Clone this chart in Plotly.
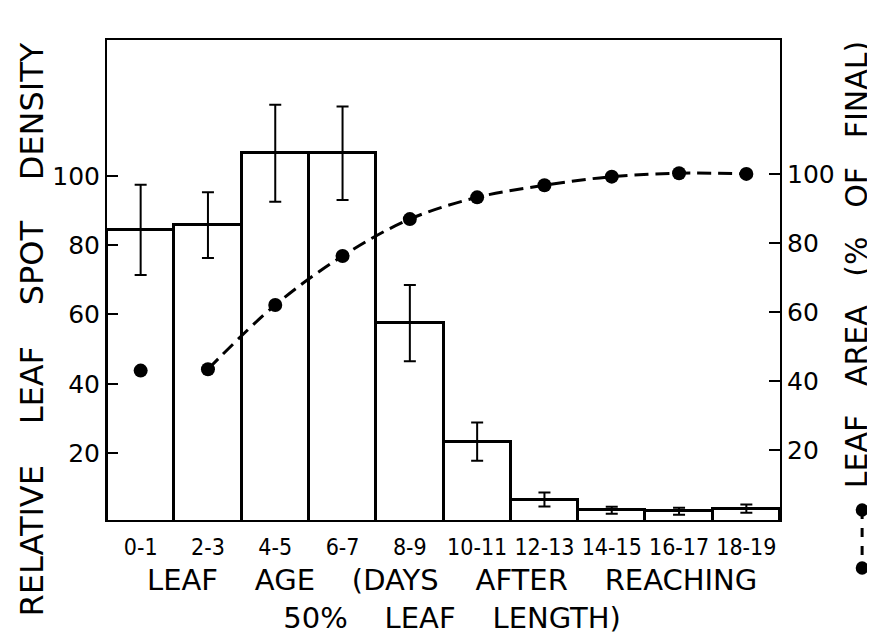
import plotly.graph_objects as go

categories = ["0-1", "2-3", "4-5", "6-7", "8-9", "10-11", "12-13", "14-15", "16-17", "18-19"]
spot_density = [84.4, 85.8, 106.5, 106.5, 57.5, 23.3, 6.6, 3.5, 3.2, 4.0]
spot_error = [13.0, 9.5, 14.0, 13.5, 11.0, 5.5, 2.0, 1.0, 1.0, 1.2]
leaf_area = [43.0, 43.4, 62.0, 76.2, 86.9, 93.2, 96.7, 99.2, 100.2, 100.0]

FONT = "DejaVu Sans"
COND = "DejaVu Sans Condensed, Liberation Sans Narrow, DejaVu Sans"
BLACK = "black"

fig = go.Figure()

fig.add_trace(go.Bar(
    x=categories, y=spot_density,
    marker=dict(color="white", line=dict(color=BLACK, width=3)),
    error_y=dict(type="data", array=spot_error, color=BLACK, thickness=2, width=6),
    showlegend=False,
))

# first point (unconnected)
fig.add_trace(go.Scatter(
    x=categories[:1], y=leaf_area[:1], yaxis="y2", mode="markers",
    marker=dict(color=BLACK, size=14), showlegend=False,
))
fig.add_trace(go.Scatter(
    x=categories[1:], y=leaf_area[1:], yaxis="y2", mode="lines+markers",
    line=dict(color=BLACK, width=3, dash="14px,7px", shape="spline"),
    marker=dict(color=BLACK, size=14), showlegend=False,
))

fig.update_layout(
    width=867, height=631,
    margin=dict(l=99, r=95, t=32, b=119),
    paper_bgcolor="white", plot_bgcolor="white",
    bargap=0,
    font=dict(family=FONT, color=BLACK),
    xaxis=dict(
        type="category", range=[-0.5, 9.5],
        showline=True, linecolor=BLACK, linewidth=2, mirror=True,
        ticks="", showgrid=False, tickfont=dict(size=23, family=COND),
        ticklabelstandoff=5,
    ),
    yaxis=dict(
        range=[0.7, 139.2], tickvals=[20, 40, 60, 80, 100],
        showline=True, linecolor=BLACK, linewidth=2, mirror=True,
        ticks="inside", ticklen=11, tickwidth=2, tickcolor=BLACK,
        showgrid=False, zeroline=False, tickfont=dict(size=25),
    ),
    yaxis2=dict(
        overlaying="y", side="right",
        range=[-0.3, 138.8], tickvals=[20, 40, 60, 80, 100],
        showline=False, ticks="inside", ticklen=11, tickwidth=2, tickcolor=BLACK,
        showgrid=False, zeroline=False, tickfont=dict(size=25),
        ticklabelstandoff=6,
    ),
    annotations=[
        dict(text="RELATIVE    LEAF    SPOT    DENSITY", xref="paper", yref="paper",
             x=-0.112, y=0.396, textangle=-90, showarrow=False,
             font=dict(size=32), xanchor="center", yanchor="middle"),
        dict(text="LEAF   AREA   (%   OF   FINAL)", xref="paper", yref="paper",
             x=1.113, y=0.531, textangle=-90, showarrow=False,
             font=dict(size=30), xanchor="center", yanchor="middle"),
        dict(text="LEAF    AGE    (DAYS    AFTER    REACHING<br>50%    LEAF    LENGTH)",
             xref="paper", yref="paper",
             x=0.512, y=-0.165, showarrow=False, font=dict(size=29),
             xanchor="center", yanchor="middle"),
    ],
    shapes=[
        dict(type="line", xref="paper", yref="paper", x0=1.122, x1=1.122, y0=0.021, y1=-0.1,
             line=dict(color=BLACK, width=3, dash="dash")),
        dict(type="circle", xref="paper", yref="paper", x0=1.1125, x1=1.1315, y0=0.007, y1=0.035,
             fillcolor=BLACK, line=dict(color=BLACK, width=0)),
        dict(type="circle", xref="paper", yref="paper", x0=1.1125, x1=1.1315, y0=-0.114, y1=-0.086,
             fillcolor=BLACK, line=dict(color=BLACK, width=0)),
    ],
)

fig.write_html("out.html")
